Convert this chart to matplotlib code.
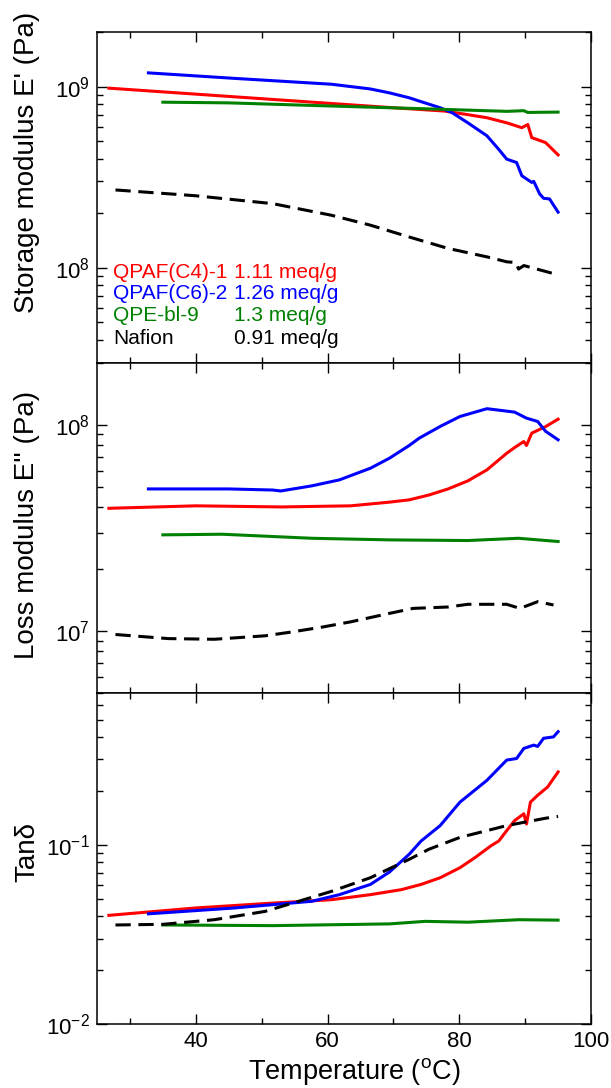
import matplotlib
matplotlib.use('Agg')
import matplotlib.pyplot as plt
from matplotlib.ticker import MultipleLocator, LogLocator, NullFormatter

plt.rcParams['font.family'] = ['Liberation Sans', 'DejaVu Sans']
plt.rcParams['mathtext.fontset'] = 'custom'
plt.rcParams['mathtext.rm'] = 'Liberation Sans'
plt.rcParams['mathtext.it'] = 'Liberation Sans:italic'

# sample names / IEC
names = ['QPAF(C4)-1', 'QPAF(C6)-2', 'QPE-bl-9', 'Nafion']
iec = ['1.11 meq/g', '1.26 meq/g', '1.3 meq/g', '0.91 meq/g']
colors = ['#ff0000', '#0000ff', '#008000', '#000000']

# storage modulus E' (Pa)
t_e1_c4 = [26.8, 51.7, 70.0, 77.7, 81.3, 84.2, 87.2, 89.5, 90.4, 91.0, 93.1, 95.0]
e1_c4 = [9.8e8, 8.49e8, 7.64e8, 7.33e8, 7.0e8, 6.73e8, 6.31e8, 5.93e8, 6.18e8, 5.23e8, 4.91e8, 4.2e8]
t_e1_c6 = [32.8, 45.8, 60.6, 66.5, 69.4, 72.4, 74.0, 77.1, 78.9, 80.1, 81.3, 84.2, 86.0, 87.2,
           88.7, 89.5, 91.0, 91.3, 92.2, 92.8, 93.7, 95.0]
e1_c6 = [1.19e9, 1.11e9, 1.03e9, 9.7e8, 9.23e8, 8.67e8, 8.3e8, 7.64e8, 7.18e8, 6.73e8, 6.31e8,
         5.35e8, 4.5e8, 3.98e8, 3.81e8, 3.22e8, 2.96e8, 3.0e8, 2.56e8, 2.42e8, 2.4e8, 2.03e8]
t_e1_qpe = [35.0, 45.0, 57.6, 75.4, 87.2, 89.8, 90.4, 95.0]
e1_qpe = [8.2e8, 8.13e8, 7.87e8, 7.53e8, 7.3e8, 7.36e8, 7.2e8, 7.23e8]
t_e1_naf = [27.8, 39.9, 51.7, 60.6, 66.5, 72.4, 78.3, 84.2, 87.2, 88.6, 89.0, 89.8, 94.3]
e1_naf = [2.69e8, 2.5e8, 2.26e8, 1.95e8, 1.72e8, 1.48e8, 1.28e8, 1.15e8, 1.08e8, 1.07e8,
          9.85e7, 1.03e8, 9.3e7]

# loss modulus E'' (Pa)
t_e2_c4 = [26.8, 40.0, 53.0, 63.5, 69.4, 72.4, 75.4, 78.3, 81.3, 84.2, 87.2, 88.4, 89.8, 90.2,
           91.0, 93.1, 95.0]
e2_c4 = [3.94e7, 4.05e7, 4.0e7, 4.05e7, 4.22e7, 4.33e7, 4.57e7, 4.89e7, 5.35e7, 6.05e7, 7.28e7,
         7.76e7, 8.3e7, 7.94e7, 9.11e7, 9.8e7, 1.065e8]
t_e2_c6 = [32.8, 45.0, 51.7, 52.9, 57.6, 61.8, 66.5, 69.4, 72.4, 73.9, 77.1, 80.1, 84.2, 88.4,
           90.2, 91.9, 93.1, 95.0]
e2_c6 = [4.89e7, 4.89e7, 4.83e7, 4.78e7, 5.06e7, 5.41e7, 6.16e7, 6.89e7, 7.94e7, 8.61e7, 9.82e7,
         1.097e8, 1.197e8, 1.152e8, 1.077e8, 1.038e8, 9.3e7, 8.46e7]
t_e2_qpe = [35.0, 44.0, 57.6, 69.4, 81.3, 89.0, 95.0]
e2_qpe = [2.93e7, 2.95e7, 2.82e7, 2.77e7, 2.75e7, 2.82e7, 2.72e7]
t_e2_naf = [27.8, 35.8, 42.8, 50.5, 54.7, 59.4, 63.5, 69.4, 73.0, 78.3, 81.3, 87.2, 89.2, 91.9, 94.3]
e2_naf = [9.64e6, 9.21e6, 9.14e6, 9.5e6, 9.93e6, 1.05e7, 1.11e7, 1.22e7, 1.29e7, 1.31e7, 1.35e7,
          1.35e7, 1.29e7, 1.39e7, 1.34e7]

# tan delta
t_td_c4 = [26.8, 39.9, 51.7, 60.6, 66.5, 71.2, 74.2, 77.1, 80.1, 82.4, 84.8, 86.0, 87.2, 88.4,
           89.8, 90.2, 90.8, 91.9, 93.4, 95.0]
td_c4 = [0.0404, 0.0444, 0.0473, 0.0494, 0.0527, 0.0562, 0.0601, 0.0655, 0.0745, 0.0849, 0.0987,
         0.105, 0.12, 0.1365, 0.149, 0.1306, 0.173, 0.189, 0.21, 0.255]
t_td_c6 = [32.8, 45.8, 57.6, 61.8, 66.5, 69.4, 72.4, 74.2, 77.1, 80.1, 84.2, 87.2, 88.7, 89.8,
           91.3, 91.9, 92.8, 94.3, 95.0]
td_c6 = [0.0412, 0.0444, 0.0484, 0.0527, 0.0601, 0.0705, 0.0886, 0.105, 0.128, 0.173, 0.229,
         0.297, 0.303, 0.345, 0.36, 0.354, 0.393, 0.40, 0.428]
t_td_qpe = [35.0, 51.7, 69.4, 74.8, 81.3, 89.0, 95.0]
td_qpe = [0.0357, 0.0354, 0.0362, 0.0374, 0.037, 0.0382, 0.038]
t_td_naf = [27.8, 35.0, 42.8, 50.5, 54.7, 60.6, 66.5, 72.4, 75.4, 80.1, 84.2, 87.2, 93.1, 95.0]
td_naf = [0.0357, 0.036, 0.0382, 0.0425, 0.0473, 0.055, 0.0655, 0.083, 0.0945, 0.11, 0.12,
          0.128, 0.1407, 0.144]

panels = [
    ([(t_e1_c4, e1_c4), (t_e1_c6, e1_c6), (t_e1_qpe, e1_qpe), (t_e1_naf, e1_naf)],
     (3e7, 2e9), "Storage modulus E' (Pa)", 0.605),
    ([(t_e2_c4, e2_c4), (t_e2_c6, e2_c6), (t_e2_qpe, e2_qpe), (t_e2_naf, e2_naf)],
     (5e6, 2e8), "Loss modulus E'' (Pa)", 0.508),
    ([(t_td_c4, td_c4), (t_td_c6, td_c6), (t_td_qpe, td_qpe), (t_td_naf, td_naf)],
     (0.01, 0.7), "Tan\u03b4", 0.519),
]

fig, axes = plt.subplots(3, 1, sharex=True, figsize=(6.11, 10.88), dpi=100)
fig.subplots_adjust(left=0.1588, right=0.9673, top=0.9706, bottom=0.0588, hspace=0)

for ax, (series, ylim, ylabel, ylab_pos) in zip(axes, panels):
    for (t, v), c in zip(series, colors):
        if c == '#000000':
            ax.plot(t, v, color=c, lw=2.2, dashes=(5, 2.5))
        else:
            ax.plot(t, v, color=c, lw=2.2)
    ax.set_yscale('log')
    ax.set_ylim(*ylim)
    ax.yaxis.set_minor_locator(LogLocator(base=10, subs=range(2, 10)))
    ax.yaxis.set_minor_formatter(NullFormatter())
    ax.set_ylabel(ylabel, fontsize=20)
    ax.yaxis.set_label_coords(-0.115, ylab_pos)
    ax.tick_params(which='both', direction='in', top=True, right=True, labelsize=16, width=1)
    ax.tick_params(which='major', length=7, pad=5)
    ax.tick_params(which='minor', length=4)
    for sp in ax.spines.values():
        sp.set_linewidth(1.1)

axes[2].set_xlim(25, 100)
axes[2].xaxis.set_major_locator(MultipleLocator(20))
axes[2].xaxis.set_minor_locator(MultipleLocator(10))
axes[2].set_xlabel('Temperature ($^{\\mathrm{o}}$C)', fontsize=19.5)
axes[2].xaxis.set_label_coords(0.52, -0.097)
axes[2].xaxis.label.set_va('top')

ys = [0.274, 0.208, 0.1416, 0.072]
for name, val, c, y in zip(names, iec, colors, ys):
    axes[0].text(0.032, y, name, color=c, fontsize=15, transform=axes[0].transAxes, va='center')
    axes[0].text(0.277, y, val, color=c, fontsize=15, transform=axes[0].transAxes, va='center')

fig.savefig('out.png', dpi=100)
